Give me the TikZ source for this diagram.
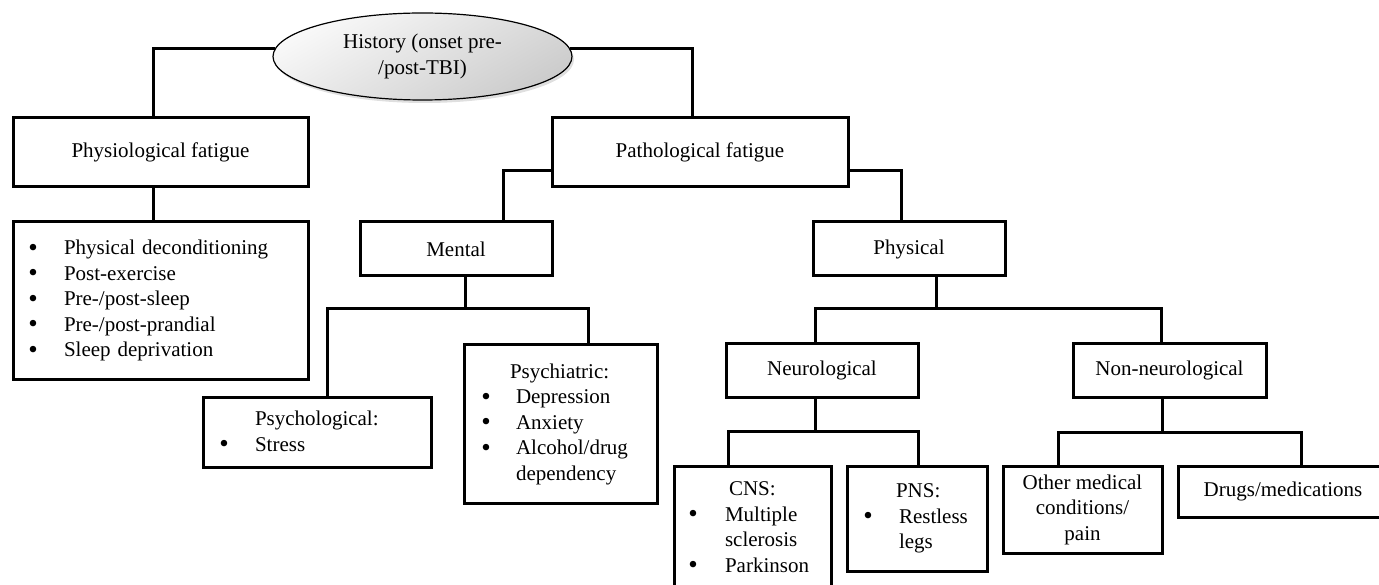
\documentclass[tikz,border=0pt]{standalone}
\usepackage{fontspec}
\setmainfont{Liberation Serif}
\usetikzlibrary{shapes.geometric,shadows}
\newcommand\bul[1]{\makebox[10pt][c]{\raisebox{-1.5pt}{\fontsize{27}{27}\selectfont\textbullet}}\hspace{#1}}
\begin{document}
\begin{tikzpicture}[x=1pt,y=-1pt,
  every node/.style={font=\fontsize{21}{25.5}\selectfont},
  box/.style={draw, line width=3pt, inner sep=0pt, align=center},
  link/.style={line width=3pt}]
\useasboundingbox (0,0) rectangle (1379,585);

\node[ellipse, draw, line width=1.2pt, top color=gray!5, bottom color=gray!40, shading angle=30,
  minimum width=299pt, minimum height=87pt, inner sep=0pt, align=center,
  drop shadow={opacity=0.25, shadow xshift=2pt, shadow yshift=-3pt}]
  (hist) at (422.5,56.5) {History (onset pre-\\/post-TBI)};

\node[box, minimum width=295pt, minimum height=69pt] (physio) at (160.5,152.5) {Physiological fatigue};
\node[box, minimum width=295pt, minimum height=157pt, inner xsep=15pt, text width=265pt, align=left] (plist) at (160.5,300.5)
  {\bul{26pt}Physical deconditioning\\ \bul{26pt}Post-exercise\\ \bul{26pt}Pre-/post-sleep\\ \bul{26pt}Pre-/post-prandial\\ \bul{26pt}Sleep deprivation};
\node[box, minimum width=296pt, minimum height=69pt] (patho) at (700,152.5) {Pathological fatigue};
\node[box, minimum width=192pt, minimum height=54pt] (mental) at (456,249) {Mental};
\node[box, minimum width=192pt, minimum height=54pt] (physical) at (909,249) {Physical};
\node[box, minimum width=228pt, minimum height=70pt, inner xsep=16pt, text width=196pt, align=left] (psychol) at (317,432)
  {\hspace*{36pt}Psychological:\\ \bul{26pt}Stress};
\node[box, minimum width=193pt, minimum height=158pt, inner xsep=17pt, text width=159pt, align=left] (psychia) at (560.5,424)
  {\hspace*{29pt}Psychiatric:\\ \bul{25pt}Depression\\ \bul{25pt}Anxiety\\ \bul{25pt}Alcohol/drug\\ \hspace*{35pt}dependency};
\node[box, minimum width=192pt, minimum height=53pt] (neuro) at (822,370.5) {Neurological};
\node[box, minimum width=193pt, minimum height=53pt] (nonneuro) at (1169.5,370.5) {Non-neurological};
\node[box, minimum width=157pt, minimum height=124pt, inner xsep=14pt, text width=129pt, align=left] (cns) at (752.5,528)
  {\hspace*{41pt}CNS:\\ \bul{27pt}Multiple\\ \hspace*{37pt}sclerosis\\ \bul{27pt}Parkinson};
\node[box, minimum width=140pt, minimum height=105pt, inner xsep=16pt, text width=108pt, align=left] (pns) at (917,518.5)
  {\hspace*{33pt}PNS:\\ \bul{26pt}Restless\\ \hspace*{36pt}legs};
\node[box, minimum width=159pt, minimum height=87pt] (other) at (1082.5,509.5) {Other medical\\conditions/\\pain};
\node[box, minimum width=210pt, minimum height=51pt] (drugs) at (1283,491.5) {Drugs/medications};

\draw[link] (hist.177) -| ([xshift=-7.5pt]physio.north);
\draw[link] (hist.3) -| ([xshift=-8pt]patho.north);
\draw[link] ([xshift=-7.5pt]physio.south) -- ([xshift=-7.5pt]plist.north);
\draw[link] ([yshift=-18.5pt]patho.west) -| ([xshift=47pt]mental.north);
\draw[link] ([yshift=-18.5pt]patho.east) -| ([xshift=-8pt]physical.north);

\coordinate (mb) at (465,309);
\draw[link] ([xshift=9pt]mental.south) -- (mb);
\draw[link] ([xshift=10pt]psychol.north) |- (mb) -| ([xshift=27.5pt]psychia.north);

\coordinate (pb) at (936,309);
\draw[link] ([xshift=27pt]physical.south) -- (pb);
\draw[link] ([xshift=-7pt]neuro.north) |- (pb) -| ([xshift=-8.5pt]nonneuro.north);

\coordinate (nb) at (815,431);
\draw[link] ([xshift=-7pt]neuro.south) -- (nb);
\draw[link] ([xshift=-24.5pt]cns.north) |- (nb) -| ([xshift=1pt]pns.north);

\coordinate (ob) at (1162,432);
\draw[link] ([xshift=-7.5pt]nonneuro.south) -- (ob);
\draw[link] ([xshift=-24.5pt]other.north) |- (ob) -| ([xshift=18pt]drugs.north);
\end{tikzpicture}
\end{document}
